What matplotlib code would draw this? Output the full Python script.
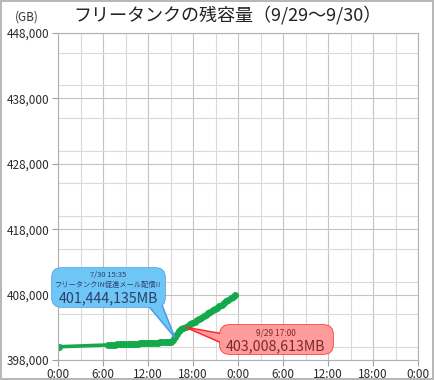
import matplotlib
matplotlib.use("Agg")
import matplotlib.pyplot as plt
from matplotlib.patches import FancyBboxPatch, Polygon
from matplotlib.ticker import FuncFormatter, MultipleLocator

plt.rcParams['font.family'] = ['Noto Sans CJK JP', 'DejaVu Sans']

# hours since 9/29 0:00, remaining capacity in GB
hours = [0.0, 0.15,
         6.7, 7.0, 7.3, 7.6, 7.9, 8.2, 8.5, 8.8, 9.1, 9.4, 9.7, 10.0, 10.3,
         10.6, 10.9, 11.2, 11.5, 11.8, 12.1, 12.4, 12.7, 13.0, 13.3, 13.6,
         13.9, 14.2, 14.5, 14.8, 15.1,
         15.35, 15.58, 15.85, 16.1, 16.4, 16.7, 17.0, 17.3, 17.6, 17.9, 18.2,
         18.5, 18.8, 19.1, 19.4, 19.7, 20.0, 20.3, 20.6, 20.9, 21.2, 21.5,
         21.8, 22.1, 22.4, 22.7, 23.0, 23.3, 23.6]
capacity = [400020, 400030,
            400300, 400330, 400340, 400370, 400380, 400400, 400420, 400430,
            400450, 400470, 400470, 400500, 400520, 400520, 400550, 400560,
            400580, 400590, 400600, 400620, 400630, 400650, 400660, 400680,
            400690, 400700, 400720, 400730, 400760,
            401100, 401444, 402000, 402500, 402750, 402900, 403009, 403250,
            403480, 403700, 403880, 404100, 404320, 404480, 404700, 404950,
            405150, 405380, 405600, 405780, 406000, 406220, 406450, 406680,
            406950, 407180, 407450, 407700, 407950]

x_ticks = [0, 6, 12, 18, 24, 30, 36, 42, 48]
x_labels = ['0:00', '6:00', '12:00', '18:00', '0:00', '6:00', '12:00', '18:00', '0:00']
y_ticks = [398000, 408000, 418000, 428000, 438000, 448000]

W, H = 434, 380

fig = plt.figure(figsize=(W / 100, H / 100), dpi=100)
fig.patch.set_facecolor('white')
fig.patch.set_edgecolor('#b8b8b8')
fig.patch.set_linewidth(1.5)

ax = fig.add_axes([58 / W, 1 - 360 / H, 360 / W, 327 / H])
ax.set_xlim(0, 48)
ax.set_ylim(398000, 448000)
ax.set_xticks(x_ticks)
ax.set_xticklabels(x_labels)
ax.set_yticks(y_ticks)
ax.yaxis.set_major_formatter(FuncFormatter(lambda v, p: f'{int(v):,}'))
ax.xaxis.set_minor_locator(MultipleLocator(3))
ax.yaxis.set_minor_locator(MultipleLocator(5000))
ax.grid(which='major', color='#c4c4c4', linewidth=0.8)
ax.grid(which='minor', color='#dadada', linewidth=0.8)
ax.set_axisbelow(True)
for s in ax.spines.values():
    s.set_color('#b0b0b0')
    s.set_linewidth(0.8)
ax.tick_params(which='major', length=4, color='#a0a0a0', labelsize=8.5,
               labelcolor='#2a2a2a', pad=2)
ax.tick_params(which='minor', length=0)

ax.plot(hours, capacity, color='#12aa4c', linewidth=2.6, marker='o',
        markersize=5, markeredgewidth=0)

fig.text(0.525, 1 - 15 / H, 'フリータンクの残容量（9/29～9/30）', ha='center',
         va='center', fontsize=13, color='#222222')
fig.text(27 / W, 1 - 17 / H, '(GB)', ha='center', va='center', fontsize=8.5,
         color='#333333')


def px(x, y):
    return (x / W, 1 - y / H)


def data_to_fig(x, y):
    d = ax.transData.transform((x, y))
    return tuple(fig.transFigure.inverted().transform(d))


def callout(box, tail, tip, fc, ec):
    x0, y0, x1, y1 = box
    (bx0, by0), (bx1, by1) = px(x0, y1), px(x1, y0)
    kw = dict(boxstyle='round,pad=0,rounding_size=0.022',
              transform=fig.transFigure, mutation_aspect=W / H)
    fig.add_artist(FancyBboxPatch((bx0, by0), bx1 - bx0, by1 - by0,
                                  fc=fc, ec=ec, lw=1.1, zorder=5, **kw))
    pts = [px(*tail[0]), px(*tail[1]), tip]
    fig.add_artist(Polygon(pts, closed=True, fc=fc, ec=ec, lw=1.1,
                           transform=fig.transFigure, zorder=6))
    fig.add_artist(FancyBboxPatch((bx0, by0), bx1 - bx0, by1 - by0,
                                  fc=fc, ec='none', zorder=7, **kw))


# blue callout
callout((52, 268, 165, 307), [(146, 303), (160, 300)],
        data_to_fig(15.58, 401444), '#6ec6f7', '#4a9be6')
fig.text(*px(108, 275), '7/30 15:35', ha='center', va='center',
         fontsize=5.5, color='#2c3e6a', zorder=8)
fig.text(*px(108, 285), 'フリータンクIN促進メール配信!!', ha='center',
         va='center', fontsize=5.2, color='#2c3e6a', zorder=8)
fig.text(*px(108, 298), '401,444,135MB', ha='center', va='center',
         fontsize=10.2, color='#2c3e6a', zorder=8)

# red callout
callout((220, 325, 333, 354), [(224, 334), (224, 344)],
        data_to_fig(17.0, 403009), '#ff9b9b', '#ff2a2a')
fig.text(*px(276, 333), '9/29 17:00', ha='center', va='center',
         fontsize=6, color='#7a2a2a', zorder=8)
fig.text(*px(276, 346), '403,008,613MB', ha='center', va='center',
         fontsize=10.2, color='#7a2a2a', zorder=8)

fig.savefig('out.png', dpi=100)
